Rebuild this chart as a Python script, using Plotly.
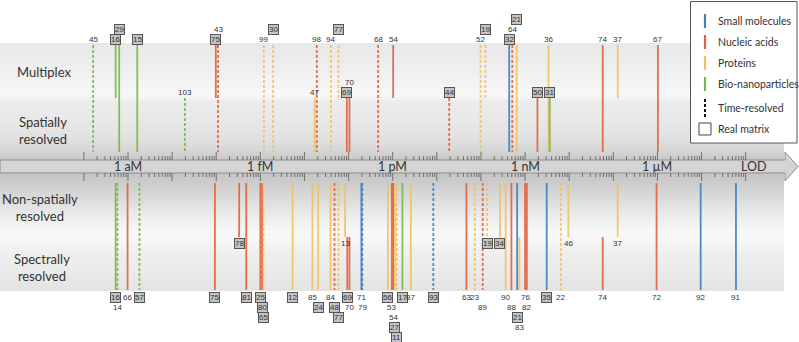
import numpy as np
import plotly.graph_objects as go

W, H = 799, 342

# ---------------- data ----------------
# Upper half: multiplex / spatially resolved assays
top_ref = ["45", "16", "29", "15", "103", "75", "43", "99", "30", "47", "98", "94", "77", "69", "70",
           "68", "54", "44", "52", "19", "32", "64", "21", "50", "36", "31", "74", "37", "67"]
top_log_lod = [-18.79, -18.28, -18.20, -17.79, -16.71, -16.01, -15.96, -14.92, -14.71, -13.77, -13.72,
               -13.40, -13.23, -13.04, -12.98, -12.33, -11.99, -10.72, -10.01, -9.90, -9.36, -9.29,
               -9.19, -8.72, -8.47, -8.44, -7.24, -6.90, -5.99]
top_class = ["B", "B", "B", "B", "B", "N", "N", "P", "P", "P", "N", "P", "P", "N", "N",
             "N", "N", "N", "P", "P", "S", "N", "P", "N", "P", "B", "N", "P", "N"]
top_time = [1, 0, 0, 0, 1, 0, 1, 1, 1, 0, 1, 1, 1, 0, 0, 1, 0, 1, 1, 1, 0, 1, 0, 0, 0, 0, 0, 0, 0]
top_real = [0, 1, 1, 1, 0, 1, 0, 0, 1, 0, 0, 0, 1, 1, 0, 0, 0, 1, 0, 1, 1, 0, 1, 1, 0, 1, 0, 0, 0]
top_multiplex = [1, 1, 1, 1, 0, 1, 1, 1, 1, 0, 1, 1, 1, 0, 0, 1, 1, 0, 1, 1, 1, 1, 1, 0, 1, 0, 1, 1, 1]
top_spatial = [1, 0, 1, 1, 1, 0, 1, 1, 1, 1, 1, 1, 0, 1, 1, 1, 0, 1, 1, 0, 1, 1, 1, 1, 1, 1, 1, 0, 1]
top_stacks = [["16", "29"], ["75", "43"], ["99", "30"], ["94", "77"], ["69", "70"],
              ["52", "19"], ["32", "64", "21"]]

# Lower half: non-spatially / spectrally resolved assays
bot_ref = ["16", "14", "66", "57", "75", "78", "81", "25", "80", "65", "12", "85", "24", "84", "48",
           "77", "13", "69", "70", "71", "79", "56", "53", "54", "27", "11", "17", "87", "93", "63",
           "23", "89", "19", "34", "90", "88", "21", "83", "76", "82", "35", "22", "46", "74", "37",
           "72", "92", "91"]
bot_log_lod = [-18.28, -18.24, -18.01, -17.74, -16.03, -15.48, -15.32, -15.00, -14.96, -14.93, -14.27,
               -13.82, -13.69, -13.41, -13.32, -13.23, -13.08, -13.03, -12.98, -12.71, -12.69, -12.11,
               -12.02, -11.99, -11.95, -11.91, -11.78, -11.59, -11.08, -10.33, -10.14, -9.96, -9.86,
               -9.57, -9.44, -9.31, -9.18, -9.13, -9.00, -8.96, -8.51, -8.19, -8.02, -7.24, -6.90,
               -6.02, -5.02, -4.22]
bot_class = ["B", "B", "N", "B", "N", "N", "N", "N", "N", "P", "P", "P", "P", "P", "N",
             "P", "P", "N", "N", "S", "S", "P", "N", "N", "P", "P", "B", "P", "S", "N",
             "P", "N", "P", "P", "P", "N", "S", "P", "N", "N", "S", "P", "P", "N", "P",
             "N", "S", "S"]
bot_time = [0, 1, 0, 1, 0, 0, 0, 0, 0, 1, 0, 0, 0, 0, 1, 1, 0, 0, 0, 0, 1, 0, 0, 0, 0, 1, 0, 0, 1, 0,
            1, 1, 1, 0, 0, 0, 0, 0, 0, 0, 0, 1, 0, 0, 0, 0, 0, 0]
bot_real = [1, 0, 0, 1, 1, 1, 1, 1, 1, 1, 1, 0, 1, 0, 1, 1, 0, 1, 0, 0, 0, 1, 0, 0, 1, 1, 1, 0, 1, 0,
            0, 0, 1, 1, 0, 0, 1, 0, 0, 0, 1, 0, 0, 0, 0, 0, 0, 0]
bot_nonspatial = [1, 1, 1, 1, 1, 1, 1, 1, 1, 1, 1, 1, 1, 1, 1, 1, 1, 0, 0, 1, 1, 1, 1, 1, 1, 1, 1, 1, 1, 1,
                  1, 1, 1, 1, 1, 1, 1, 0, 1, 1, 1, 1, 1, 0, 1, 1, 1, 1]
bot_spectral = [1, 1, 1, 1, 1, 0, 1, 1, 1, 1, 1, 1, 1, 1, 1, 1, 0, 1, 1, 1, 1, 1, 1, 1, 1, 1, 1, 1, 1, 1,
                1, 1, 0, 0, 1, 1, 1, 1, 1, 1, 1, 1, 0, 1, 0, 1, 1, 1]
bot_stacks = [["16", "14"], ["25", "80", "65"], ["85", "24"], ["84", "48", "77"], ["69", "70"],
              ["71", "79"], ["56", "53", "54", "27", "11"], ["23", "89"], ["90", "88", "21", "83"],
              ["76", "82"]]

axis_decades = [-18, -15, -12, -9, -6]
axis_labels = ["1 aM", "1 fM", "1 pM", "1 nM", "1 \u00b5M"]

legend_classes = ["S", "N", "P", "B"]
legend_names = ["Small molecules", "Nucleic acids", "Proteins", "Bio-nanoparticles"]

# ---------------- styling / layout ----------------
COLORS = {"S": "#3e7fc6", "N": "#e3623c", "P": "#f3c25e", "B": "#79b84b"}
TXT = "#333333"
NUM_FONT = dict(family="Liberation Sans, Arial, sans-serif", size=8, color=TXT)
TITLE_FONT = dict(family="Lato, Open Sans, sans-serif", size=13, color=TXT)

PX_PER_DEC = 44.12
X0_PX = 128.0  # pixel of 1 aM
x_left = -18 - X0_PX / PX_PER_DEC
x_right = -18 + (W - X0_PX) / PX_PER_DEC


def px(xp):
    return xp / W


# vertical geometry (y axis in screen pixels, reversed)
T_TOP, T_MID, T_AX = 45, 98, 152
B_AX, B_MID, B_BOT = 183, 237, 290
BAR_T, BAR_B = 160, 173
ROW_T1, ROW_TS = 39, 92
ROW_B1, ROW_BM = 297, 243
STEP = 10

fig = go.Figure()
shapes = []
annotations = []

# background cylinder-like shading
prof_y = [43, 60, 80, 95, 98, 101, 120, 140, 152, 160, 175, 185, 200, 215, 232, 240, 255, 275, 288, 291]
prof_g = [232, 236, 242, 247, 244, 236, 232, 224, 212, 200, 198, 206, 220, 235, 248, 246, 238, 233, 228, 228]
for y in range(43, 291, 1):
    g = int(round(np.interp(y + 0.5, prof_y, prof_g)))
    shapes.append(dict(type="rect", xref="paper", yref="y", x0=0, x1=px(784), y0=y, y1=y + 1,
                       fillcolor=f"rgb({g},{g},{g})", line=dict(width=0), layer="below"))

# axis arrow
path = (f"M 0,{BAR_T} L {px(785)},{BAR_T} L {px(785)},152 L {px(798)},166.5 "
        f"L {px(785)},181 L {px(785)},{BAR_B} L 0,{BAR_B} Z")
shapes.append(dict(type="path", xref="paper", yref="y", path=path, fillcolor="#d4d4d4",
                   line=dict(color="#8c8c8c", width=1), layer="below"))

# ticks
tx, ty = [], []
for d in range(-19, -3):
    for yy in ((152, BAR_T), (BAR_B, 181)):
        tx += [d, d, None]
        ty += [yy[0], yy[1], None]
    if d < -4:
        for k in range(2, 10):
            v = d + np.log10(k)
            tx += [v, v, None, v, v, None]
            ty += [156, BAR_T, None, BAR_B, 177, None]
fig.add_trace(go.Scatter(x=tx, y=ty, mode="lines", line=dict(color="#666666", width=0.9),
                         hoverinfo="skip", showlegend=False))

for d, lab in zip(axis_decades, axis_labels):
    annotations.append(dict(x=d, y=166.5, xref="x", yref="y", text=lab, showarrow=False,
                            font=dict(family="Lato, sans-serif", size=12.5, color=TXT)))
annotations.append(dict(x=px(768.5), y=166.5, xref="paper", yref="y", text="LOD", showarrow=False,
                        font=dict(family="Lato, sans-serif", size=12.5, color=TXT)))


def level_map(stacks):
    m = {}
    for st in stacks:
        for i, r in enumerate(st):
            m[r] = i
    return m


def add_line(x, y0, y1, cls, dashed):
    fig.add_trace(go.Scatter(x=[x, x], y=[y0, y1], mode="lines",
                             line=dict(color=COLORS[cls], width=1.8, dash="3px,2px" if dashed else "solid"),
                             opacity=0.9, hoverinfo="skip", showlegend=False))


def add_label(x, y, text, boxed):
    a = dict(x=x, y=y, xref="x", yref="y", text=text, showarrow=False, font=NUM_FONT,
             xanchor="center", yanchor="middle")
    if boxed:
        a.update(bgcolor="#c4c4c4", bordercolor="#555555", borderwidth=1, borderpad=0)
    annotations.append(a)


# upper lines
lv = level_map(top_stacks)
for r, x, c, t, rm, m, s in zip(top_ref, top_log_lod, top_class, top_time, top_real, top_multiplex, top_spatial):
    y0 = T_TOP if m else T_MID
    y1 = T_AX if s else T_MID
    add_line(x, y0, y1, c, t)
    base = ROW_T1 if m else ROW_TS
    add_label(x, base - STEP * lv.get(r, 0), r, rm)

# lower lines
lv = level_map(bot_stacks)
for r, x, c, t, rm, n, sp in zip(bot_ref, bot_log_lod, bot_class, bot_time, bot_real, bot_nonspatial, bot_spectral):
    y0 = B_AX if n else B_MID
    y1 = B_BOT if sp else B_MID
    add_line(x, y0, y1, c, t)
    base = ROW_B1 if sp else ROW_BM
    add_label(x, base + STEP * lv.get(r, 0), r, rm)

# row titles
annotations.append(dict(x=px(15), y=72, xref="paper", yref="y", text="Multiplex", showarrow=False,
                        xanchor="left", font=TITLE_FONT))
annotations.append(dict(x=px(17), y=130, xref="paper", yref="y", text="Spatially<br>resolved",
                        showarrow=False, xanchor="left", align="left", font=TITLE_FONT))
annotations.append(dict(x=px(40), y=207.5, xref="paper", yref="y", text="Non-spatially<br>resolved",
                        showarrow=False, xanchor="center", align="center", font=TITLE_FONT))
annotations.append(dict(x=px(42), y=267.5, xref="paper", yref="y", text="Spectrally<br>resolved",
                        showarrow=False, xanchor="center", align="center", font=TITLE_FONT))

# legend (drawn manually)
shapes.append(dict(type="rect", xref="paper", yref="y", x0=px(690.5), x1=px(797), y0=1.5, y1=143,
                   fillcolor="white", line=dict(color="#555555", width=1), layer="above"))
LEG_FONT = dict(family="Lato, sans-serif", size=10.5, color=TXT)
leg_rows = [21, 42, 63, 84]
for c, name, yy in zip(legend_classes, legend_names, leg_rows):
    shapes.append(dict(type="line", xref="paper", yref="y", x0=px(705), x1=px(705), y0=yy - 7, y1=yy + 7,
                       line=dict(color=COLORS[c], width=2.2), layer="above"))
    annotations.append(dict(x=px(716), y=yy, xref="paper", yref="y", text=name, showarrow=False,
                            xanchor="left", font=LEG_FONT))
shapes.append(dict(type="line", xref="paper", yref="y", x0=px(705), x1=px(705), y0=99, y1=117,
                   line=dict(color="#111111", width=2, dash="3px,2px"), layer="above"))
annotations.append(dict(x=px(716), y=108, xref="paper", yref="y", text="Time-resolved", showarrow=False,
                        xanchor="left", font=LEG_FONT))
shapes.append(dict(type="rect", xref="paper", yref="y", x0=px(699), x1=px(711), y0=123, y1=135,
                   fillcolor="white", line=dict(color="#444444", width=1), layer="above"))
annotations.append(dict(x=px(716), y=129, xref="paper", yref="y", text="Real matrix", showarrow=False,
                        xanchor="left", font=LEG_FONT))

fig.update_layout(
    width=W, height=H, margin=dict(l=0, r=0, t=0, b=0),
    paper_bgcolor="white", plot_bgcolor="white",
    xaxis=dict(range=[x_left, x_right], visible=False, fixedrange=True),
    yaxis=dict(range=[H, 0], visible=False, fixedrange=True),
    shapes=shapes, annotations=annotations, showlegend=False,
)

fig.write_html("out.html", config={"displayModeBar": False},
               post_script="document.body.style.margin='0px';document.body.style.overflow='hidden';")
